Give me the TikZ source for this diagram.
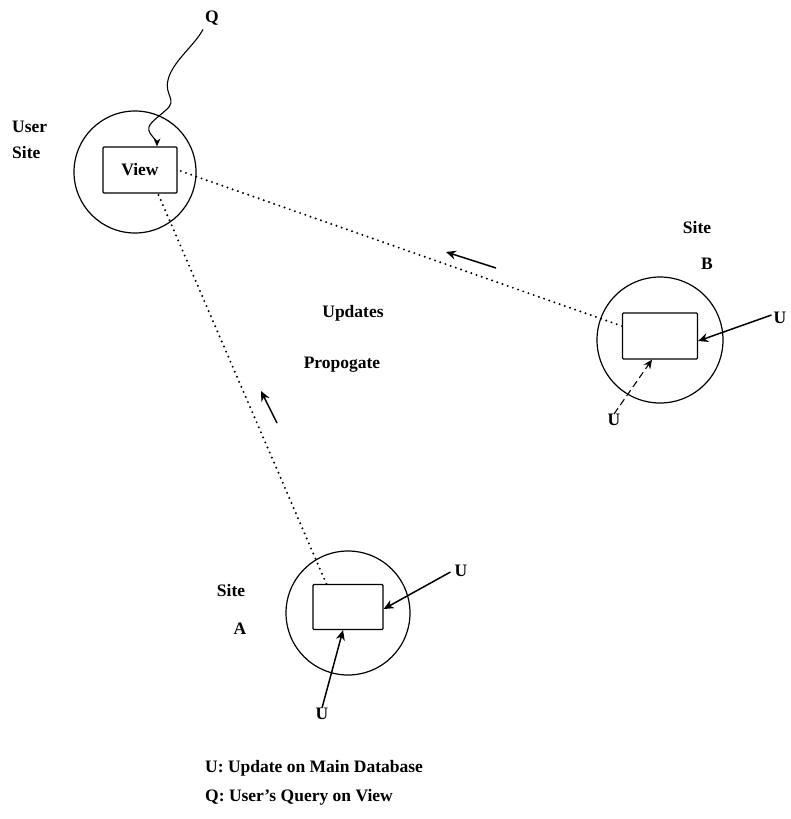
\documentclass[tikz,border=0pt]{standalone}
\usepackage{fontspec}
\setmainfont{Liberation Serif}
\usetikzlibrary{arrows.meta}
\begin{document}
\begin{tikzpicture}[x=1pt,y=-1pt,
  lbl/.style={font=\fontsize{17.5}{20}\selectfont\bfseries, inner sep=0pt},
  site/.style={circle, draw, line width=1.2pt, inner sep=0pt},
  dbbox/.style={draw, line width=1.3pt, rounded corners=1pt, inner sep=0pt},
  dotline/.style={line width=2.2pt, line cap=round, dash pattern=on 0pt off 5.5pt},
  arr/.style={line width=1.5pt, -{Stealth[length=10pt,width=9pt]}},
  darr/.style={line width=1.1pt, dash pattern=on 7pt off 4pt, -{Stealth[length=9pt,width=8pt]}}
]
\useasboundingbox (0,0) rectangle (790,819);
% sites
\node[site, minimum size=122pt] (cU) at (135,172) {};
\node[site, minimum size=126pt] (cB) at (660,340) {};
\node[site, minimum size=124pt] (cA) at (348,613) {};
% boxes
\node[dbbox, minimum width=74pt, minimum height=46pt, font=\fontsize{17.5}{20}\selectfont\bfseries] (view) at (140,170) {View};
\node[dbbox, minimum width=75pt, minimum height=46pt] (bB) at (660,336) {};
\node[dbbox, minimum width=70pt, minimum height=45pt] (bA) at (348,607) {};
% labels
\node[lbl, anchor=west] (us1) at (12,127) {User};
\node[lbl, anchor=west] (us2) at (12,153) {Site};
\node[lbl] (q) at (212,18) {Q};
\node[lbl] (sB) at (697,228) {Site};
\node[lbl] (lB) at (707,264) {B};
\node[lbl] (uB1) at (780,318) {U};
\node[lbl] (uB2) at (614,420) {U};
\node[lbl] (sA) at (231,591) {Site};
\node[lbl] (lA) at (240,629) {A};
\node[lbl] (uA1) at (461,571) {U};
\node[lbl] (uA2) at (322,714) {U};
\node[lbl] (upd) at (353,313) {Updates};
\node[lbl] (prop) at (342,365) {Propogate};
\node[lbl, anchor=west] (leg1) at (205,768) {U: Update on Main Database};
\node[lbl, anchor=west] (leg2) at (205,797) {Q: User's Query on View};
% query squiggle
\draw[line width=1.1pt, -{Stealth[length=8pt,width=7pt]}] (q.south west) ++(-2,4)
  .. controls (195,45) and (172,62) .. (168,80)
  .. controls (164,95) and (178,100) .. (166,110)
  .. controls (155,120) and (145,125) .. (150,133)
  .. controls (154,139) and (157,141) .. (view.north -| 157,0);
% propagation dotted lines
\draw[dotline] (bB.west) ++(0,-10) -- (view.east);
\draw[dotline] (bA.north west) ++(14,0) -- ([xshift=18pt]view.south);
% direction arrows
\coordinate (pB1) at (496,268);
\coordinate (pB2) at (446,252);
\draw[arr] (pB1) -- (pB2);
\coordinate (pA1) at (277,423);
\coordinate (pA2) at (261,391);
\draw[arr] (pA1) -- (pA2);
% updates
\draw[arr] (uB1.west) ++(-2,-3) -- ([yshift=-5pt]bB.east);
\draw[darr] (uB2.north) -- ([xshift=-8pt]bB.south);
\draw[arr] (uA1.west) ++(-4,1) -- ([yshift=-2pt]bA.east);
\draw[arr] (uA2.north) -- ([xshift=-5pt]bA.south);
\end{tikzpicture}
\end{document}
